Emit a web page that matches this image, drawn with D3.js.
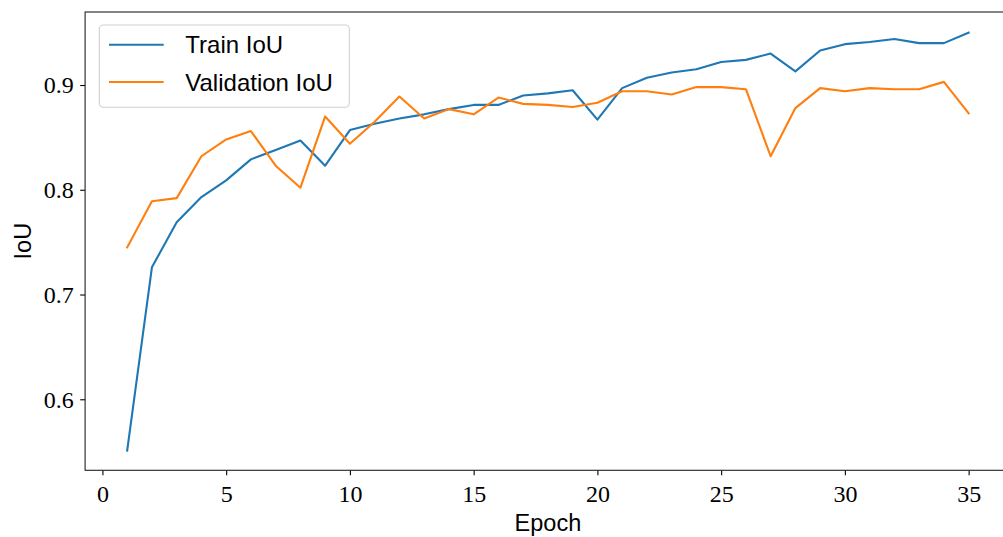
<!DOCTYPE html>
<html>
<head>
<meta charset="utf-8">
<script src="https://cdn.jsdelivr.net/npm/d3@7"></script>
<style>
  html, body { margin: 0; padding: 0; background: #fff; }
  svg { display: block; }
</style>
</head>
<body>
<svg id="chart" width="1003" height="537"></svg>
<script>
const epochs = [1,2,3,4,5,6,7,8,9,10,11,12,13,14,15,16,17,18,19,20,21,22,23,24,25,26,27,28,29,30,31,32,33,34,35];
const trainIoU = [0.551, 0.726, 0.769, 0.793, 0.809, 0.829, 0.838, 0.847, 0.823, 0.857,
                  0.863, 0.868, 0.872, 0.877, 0.881, 0.881, 0.890, 0.892, 0.895, 0.867,
                  0.897, 0.907, 0.912, 0.915, 0.922, 0.924, 0.930, 0.913, 0.933, 0.939,
                  0.941, 0.944, 0.940, 0.940, 0.950];
const valIoU = [0.745, 0.789, 0.792, 0.832, 0.848, 0.856, 0.823, 0.802, 0.870, 0.844,
                0.865, 0.889, 0.868, 0.877, 0.872, 0.888, 0.882, 0.881, 0.879, 0.883,
                0.894, 0.894, 0.891, 0.898, 0.898, 0.896, 0.832, 0.878, 0.897, 0.894,
                0.897, 0.896, 0.896, 0.903, 0.873];
const xTicks = [0, 5, 10, 15, 20, 25, 30, 35];
const yTicks = [0.6, 0.7, 0.8, 0.9];
const seriesNames = ["Train IoU", "Validation IoU"];
const seriesColors = ["#1f77b4", "#ff7f0e"];

const svg = d3.select("#chart");
const L = 85.1, R = 1010.7, T = 12, B = 470.3;

const x = d3.scaleLinear().domain([-0.7, 36.7]).range([L, R]);
const y = d3.scaleLinear().domain([0.5322, 0.9697]).range([B, T]);

const serif = "'Liberation Serif', 'DejaVu Serif', serif";
const sans = "'Liberation Sans', Arial, sans-serif";

// lines
const line = d3.line().x((d, i) => x(epochs[i])).y(d => y(d));
[trainIoU, valIoU].forEach((s, k) => {
  svg.append("path").datum(s)
    .attr("d", line)
    .attr("fill", "none")
    .attr("stroke", seriesColors[k])
    .attr("stroke-width", 2.1)
    .attr("stroke-linejoin", "round")
    .attr("stroke-linecap", "square");
});

// axes
const xAxis = d3.axisBottom(x).tickValues(xTicks).tickFormat(d3.format("d")).tickSize(4.9).tickPadding(4);
const gx = svg.append("g").attr("transform", `translate(0,${B})`).call(xAxis);
gx.select(".domain").remove();
gx.selectAll(".tick line").attr("stroke", "#000").attr("stroke-width", 1.1);
gx.selectAll(".tick text").attr("font-family", serif).attr("font-size", 24).attr("fill", "#000")
  .attr("dy", null).attr("y", 31.5);

const yAxis = d3.axisLeft(y).tickValues(yTicks).tickFormat(d3.format(".1f")).tickSize(4.9).tickPadding(6.5);
const gy = svg.append("g").attr("transform", `translate(${L},0)`).call(yAxis);
gy.select(".domain").remove();
gy.selectAll(".tick line").attr("stroke", "#000").attr("stroke-width", 1.1);
gy.selectAll(".tick text").attr("font-family", serif).attr("font-size", 24).attr("fill", "#000")
  .attr("dy", "0.33em");

// spines
svg.append("rect").attr("x", L).attr("y", T).attr("width", R - L).attr("height", B - T)
  .attr("fill", "none").attr("stroke", "#222").attr("stroke-width", 1.1);

// axis labels
svg.append("text").attr("x", (L + R) / 2).attr("y", 530.5).attr("text-anchor", "middle")
  .attr("font-family", sans).attr("font-size", 23.5).attr("fill", "#000").text("Epoch");
svg.append("text").attr("transform", `translate(31,${(T + B) / 2}) rotate(-90)`)
  .attr("text-anchor", "middle").attr("font-family", sans).attr("font-size", 23.5)
  .attr("fill", "#000").text("IoU");

// legend
const lg = svg.append("g");
lg.append("rect").attr("x", 99.3).attr("y", 25).attr("width", 250).attr("height", 82.3)
  .attr("rx", 4).attr("ry", 4).attr("fill", "#fff").attr("fill-opacity", 0.8)
  .attr("stroke", "#d0d0d0").attr("stroke-width", 1.1);
const legY = [44.7, 82];
seriesNames.forEach((n, k) => {
  lg.append("line").attr("x1", 109).attr("x2", 163.7).attr("y1", legY[k]).attr("y2", legY[k])
    .attr("stroke", seriesColors[k]).attr("stroke-width", 2.1);
  lg.append("text").attr("x", 185.3).attr("y", legY[k]).attr("dy", "0.36em")
    .attr("font-family", sans).attr("font-size", 24).attr("fill", "#000").text(n);
});
</script>
</body>
</html>
